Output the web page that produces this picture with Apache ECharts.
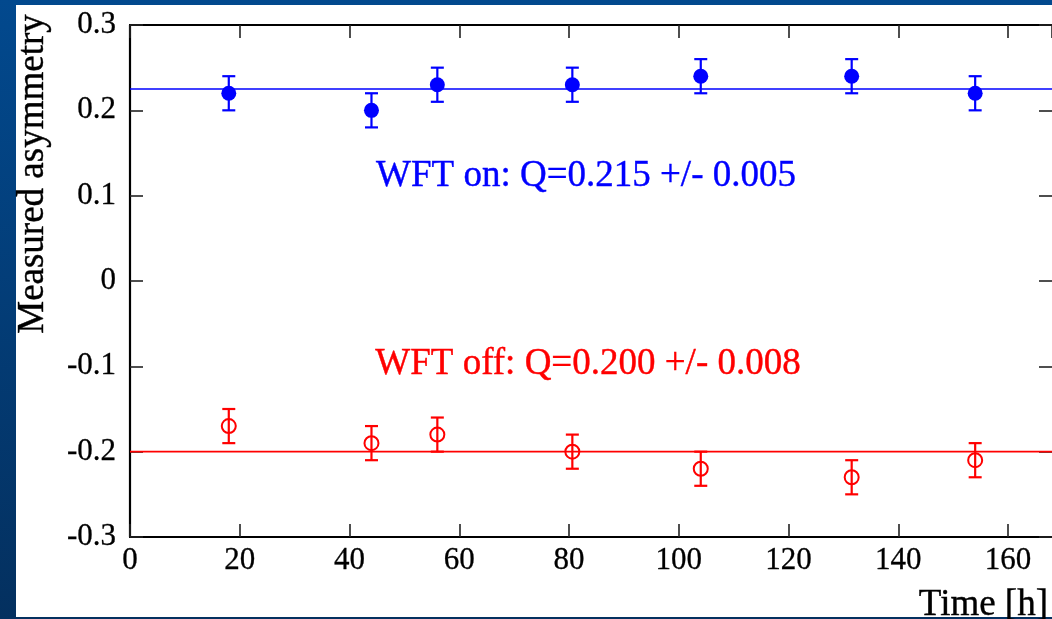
<!DOCTYPE html>
<html>
<head>
<meta charset="utf-8">
<script src="https://cdn.jsdelivr.net/npm/echarts@6/dist/echarts.min.js"></script>
<style>
html,body{margin:0;padding:0;background:#02468a;}
#c{width:1052px;height:619px;}
</style>
</head>
<body>
<div id="c"></div>
<script>
// ---- data ----
const onTimes  = [18, 44, 56, 80.6, 104, 131.5, 154];
const onValues = [0.22, 0.20, 0.23, 0.23, 0.24, 0.24, 0.22];
const onErrors = [0.02, 0.02, 0.02, 0.02, 0.02, 0.02, 0.02];
const offTimes  = [18, 44, 56, 80.6, 104, 131.5, 154];
const offValues = [-0.17, -0.19, -0.18, -0.20, -0.22, -0.23, -0.21];
const offErrors = [0.02, 0.02, 0.02, 0.02, 0.02, 0.02, 0.02];
const onFitLevel = 0.225;
const offFitLevel = -0.2;
const xRange = [0, 168];
const yRange = [-0.3, 0.3];
const onLabel = 'WFT on: Q=0.215 +/- 0.005';
const offLabel = 'WFT off: Q=0.200 +/- 0.008';
const xName = 'Time [h]';
const yName = 'Measured asymmetry';

const SERIF = '"Liberation Serif","DejaVu Serif",serif';
const chart = echarts.init(document.getElementById('c'), null, {renderer:'canvas'});

function pts(xs, ys){ return xs.map((x,i)=>[x, ys[i]]); }
function errData(xs, ys, es){ return xs.map((x,i)=>[x, ys[i], es[i]]); }

function errRender(color){
  return function(params, api){
    const x = api.value(0), y = api.value(1), e = api.value(2);
    const top = api.coord([x, y + e]);
    const bot = api.coord([x, y - e]);
    const hw = 6.5;
    const st = {stroke: color, lineWidth: 2.2};
    return {type:'group', children:[
      {type:'line', shape:{x1:top[0], y1:top[1], x2:bot[0], y2:bot[1]}, style:st},
      {type:'line', shape:{x1:top[0]-hw, y1:top[1], x2:top[0]+hw, y2:top[1]}, style:st},
      {type:'line', shape:{x1:bot[0]-hw, y1:bot[1], x2:bot[0]+hw, y2:bot[1]}, style:st}
    ]};
  };
}

const axisLine = {show:true, onZero:false, lineStyle:{color:'#000', width:2.2}};
const tick = {inside:true, length:13, lineStyle:{color:'#222', width:1.6}};
const labelFont = {fontFamily:SERIF, fontSize:31, color:'#000', textBorderColor:'#000', textBorderWidth:0.3};
const option = {
  animation:false,
  backgroundColor: new echarts.graphic.LinearGradient(0,0,0,1,[{offset:0,color:'#02498e'},{offset:1,color:'#04305f'}]),
  grid:{left:130, right:0, top:25, bottom:82, show:false},
  xAxis:[
    {type:'value', min:xRange[0], max:xRange[1], interval:20, position:'bottom',
     axisLine:axisLine, splitLine:{show:false}, axisTick:tick,
     axisLabel:Object.assign({margin:8, showMaxLabel:false}, labelFont)},
    {type:'value', min:xRange[0], max:xRange[1], interval:20, position:'top',
     axisLine:axisLine, splitLine:{show:false}, axisTick:tick,
     axisLabel:{show:false}}
  ],
  yAxis:[
    {type:'value', min:yRange[0], max:yRange[1], interval:0.1, position:'left',
     axisLine:axisLine, splitLine:{show:false}, axisTick:tick,
     axisLabel:Object.assign({margin:14, padding:[5,0,0,0],
       formatter:v=>{const r=Math.round(v*10)/10; return r===0?'0':String(r);}}, labelFont)},
    {type:'value', min:yRange[0], max:yRange[1], interval:0.1, position:'right',
     axisLine:{show:false, onZero:false}, splitLine:{show:false}, axisTick:tick,
     axisLabel:{show:false}}
  ],
  graphic:[
    {type:'rect', z:-10, shape:{x:16, y:5, width:1040, height:612}, style:{fill:'#fff'}},
    {type:'text', x:586, y:176, style:{text:onLabel, font:'37px '+SERIF, fill:'#0000ff', align:'center', verticalAlign:'middle', stroke:'#0000ff', lineWidth:0.4}},
    {type:'text', x:588, y:364, style:{text:offLabel, font:'37px '+SERIF, fill:'#ff0000', align:'center', verticalAlign:'middle', stroke:'#ff0000', lineWidth:0.4}},
    {type:'text', x:1048, y:605, style:{text:xName, font:'37px '+SERIF, fill:'#000', align:'right', verticalAlign:'middle', stroke:'#000', lineWidth:0.4}},
    {type:'text', x:33, y:174, rotation:Math.PI/2, style:{text:yName, font:'37px '+SERIF, fill:'#000', align:'center', verticalAlign:'middle', stroke:'#000', lineWidth:0.4}}
  ],
  series:[
    {type:'line', xAxisIndex:0, yAxisIndex:0, data:[[xRange[0], onFitLevel],[xRange[1], onFitLevel]], symbol:'none',
     lineStyle:{color:'#0000ff', width:1.6}, z:1},
    {type:'line', xAxisIndex:0, yAxisIndex:0, data:[[xRange[0], offFitLevel],[xRange[1], offFitLevel]], symbol:'none',
     lineStyle:{color:'#ff0000', width:1.6}, z:1},
    {type:'custom', data:errData(onTimes, onValues, onErrors), renderItem:errRender('#0000ff'), z:2},
    {type:'custom', data:errData(offTimes, offValues, offErrors), renderItem:errRender('#ff0000'), z:2},
    {type:'scatter', data:pts(onTimes, onValues), symbol:'circle', symbolSize:15,
     itemStyle:{color:'#0000ff', opacity:1}, z:3},
    {type:'scatter', data:pts(offTimes, offValues), symbol:'circle', symbolSize:14,
     itemStyle:{color:'rgba(0,0,0,0)', borderColor:'#ff0000', borderWidth:2, opacity:1}, z:3}
  ]
};
chart.setOption(option);
</script>
</body>
</html>
